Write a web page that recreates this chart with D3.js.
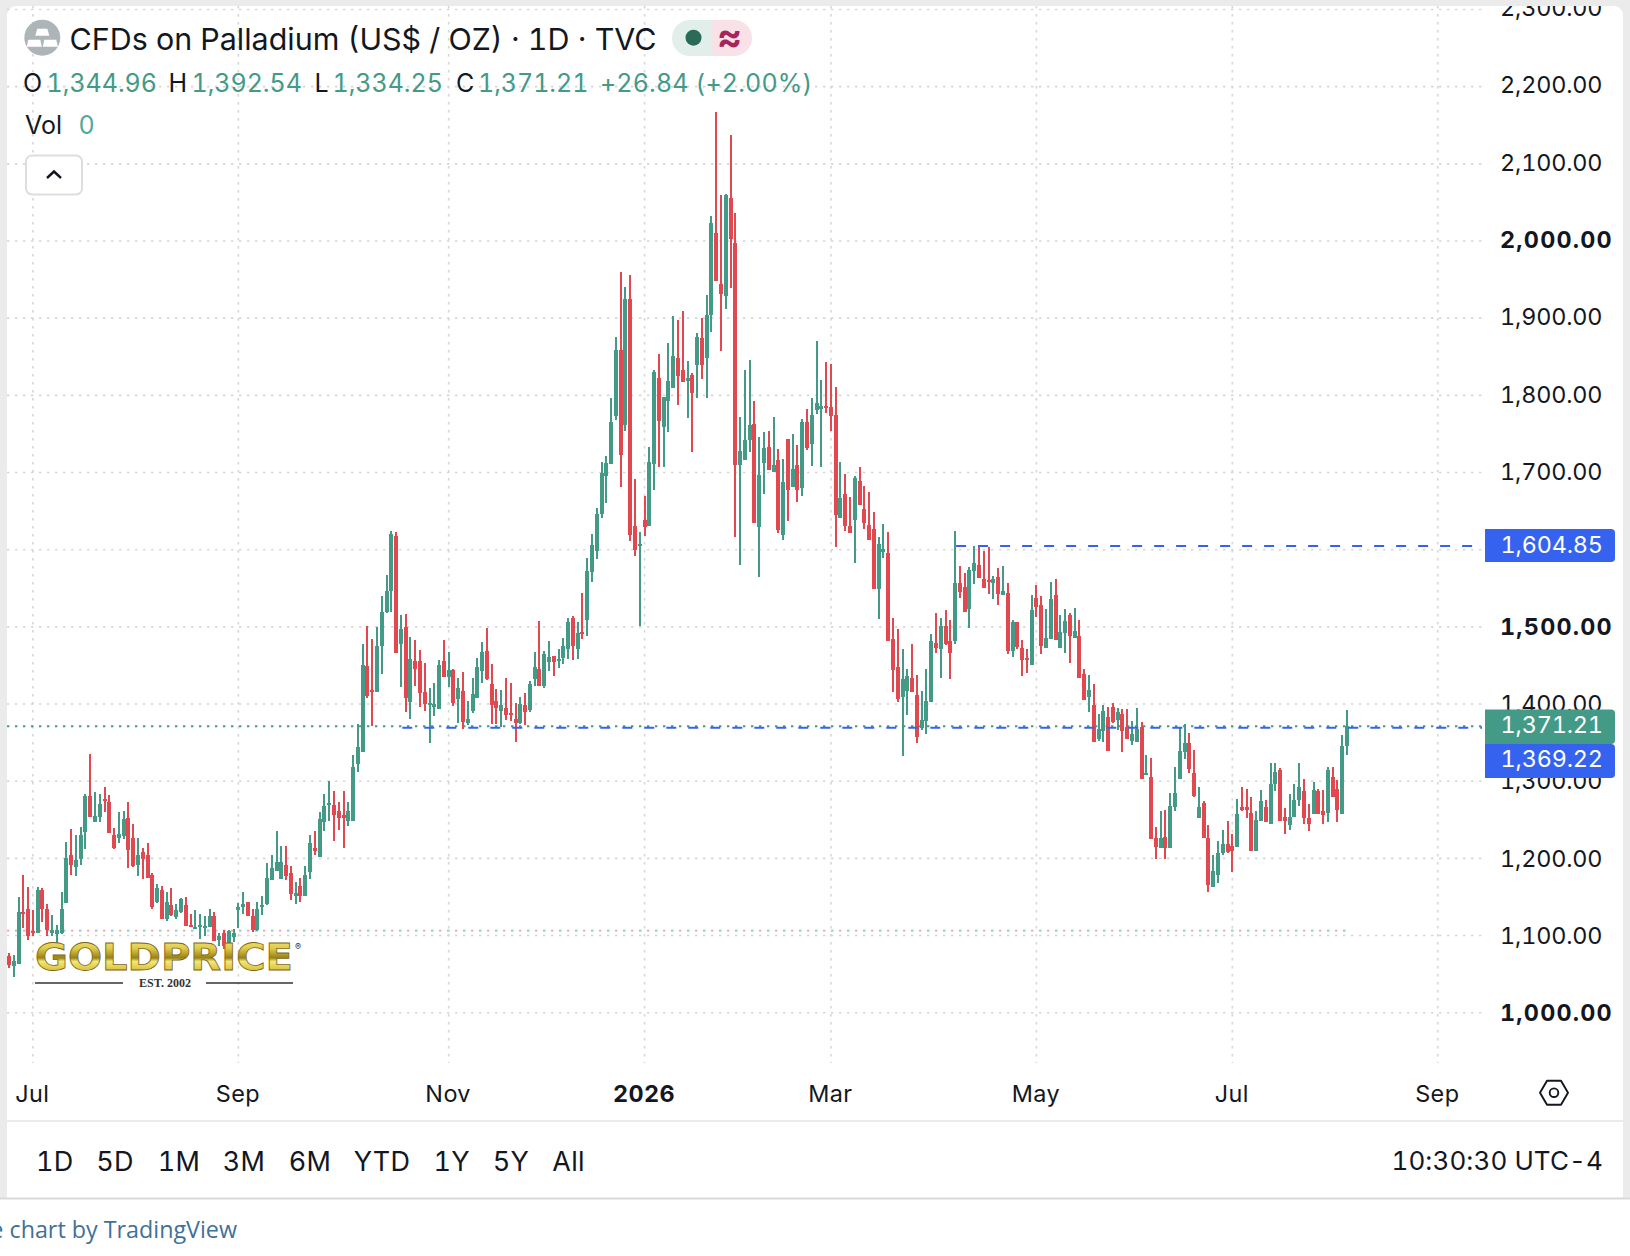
<!DOCTYPE html>
<html lang="en">
<head>
<meta charset="utf-8">
<title>CFDs on Palladium</title>
<script src="https://cdn.jsdelivr.net/npm/d3@7/dist/d3.min.js"></script>
<style>
html,body{margin:0;padding:0;background:#fff;overflow:hidden}
svg{display:block}
text{font-family:Inter,"Noto Sans",sans-serif;font-variant-numeric:tabular-nums;font-feature-settings:"tnum"}
</style>
</head>
<body>
<svg id="chart" width="1630" height="1256"></svg>
<script>
const highs=[1077,1075,1150,1178,1163,1133,1163,1161,1141,1126,
1113,1156,1221,1238,1230,1240,1284,1335,1286,1283,
1292,1282,1239,1260,1261,1273,1244,1227,1214,1220,
1181,1167,1164,1156,1161,1141,1148,1150,1128,1133,
1128,1125,1134,1130,1103,1107,1107,1108,1142,1157,
1144,1135,1144,1151,1194,1204,1235,1216,1216,1190,
1170,1174,1190,1230,1235,1260,1284,1300,1287,1273,
1287,1273,1334,1374,1478,1501,1484,1500,1540,1567,
1624,1623,1515,1517,1487,1483,1470,1453,1421,1427,
1457,1483,1467,1445,1434,1441,1404,1434,1460,1480,
1498,1452,1420,1418,1434,1427,1401,1409,1414,1430,
1467,1508,1469,1482,1462,1471,1486,1511,1514,1506,
1544,1589,1620,1654,1713,1721,1796,1876,1960,1940,
1956,1691,1623,1669,1733,1833,1853,1798,1868,1903,
1898,1909,1844,1829,1881,1900,1930,2032,2167,2060,
2061,2137,2036,1772,1833,1846,1793,1746,1752,1754,
1772,1730,1717,1743,1750,1736,1769,1782,1796,1870,
1820,1843,1840,1811,1713,1698,1668,1695,1707,1682,
1675,1649,1616,1633,1623,1511,1497,1471,1445,1478,
1438,1417,1445,1491,1518,1511,1522,1509,1624,1579,
1570,1578,1605,1606,1598,1603,1566,1576,1579,1557,
1509,1506,1483,1471,1541,1554,1540,1523,1558,1562,
1515,1523,1518,1524,1509,1445,1438,1426,1387,1399,
1396,1401,1395,1394,1394,1378,1395,1377,1334,1330,
1240,1262,1263,1285,1319,1369,1374,1363,1341,1293,
1274,1243,1205,1223,1237,1249,1231,1277,1292,1290,
1279,1262,1288,1275,1324,1324,1317,1265,1283,1296,
1324,1303,1270,1299,1290,1289,1319,1319,1302,1360,1392.54];
const lows=[1058,1046,1063,1110,1094,1099,1103,1117,1099,1100,
1090,1102,1142,1179,1177,1192,1212,1253,1247,1247,
1260,1233,1212,1220,1225,1187,1189,1177,1173,1174,
1134,1142,1121,1119,1125,1122,1129,1112,1111,1108,
1095,1099,1111,1093,1087,1082,1086,1091,1110,1128,
1125,1104,1106,1126,1139,1172,1183,1173,1172,1146,
1141,1143,1151,1173,1204,1202,1235,1249,1222,1237,
1213,1242,1249,1312,1338,1408,1371,1416,1439,1518,
1519,1466,1422,1390,1381,1423,1396,1391,1350,1384,
1393,1435,1422,1397,1375,1368,1373,1389,1408,1427,
1431,1374,1374,1370,1379,1378,1351,1374,1373,1390,
1423,1423,1421,1443,1436,1447,1452,1458,1457,1458,
1484,1488,1558,1588,1641,1660,1711,1768,1681,1754,
1611,1592,1501,1618,1631,1677,1707,1707,1752,1809,
1787,1817,1771,1726,1796,1821,1796,1882,1948,1857,
1912,1939,1616,1580,1716,1726,1634,1564,1672,1703,
1701,1621,1612,1637,1681,1662,1669,1729,1708,1776,
1707,1777,1754,1603,1641,1624,1621,1583,1658,1627,
1612,1549,1510,1589,1482,1416,1403,1333,1386,1416,
1349,1366,1361,1403,1466,1434,1476,1432,1478,1537,
1519,1499,1556,1563,1550,1543,1536,1528,1541,1465,
1461,1471,1436,1440,1450,1513,1465,1473,1484,1483,
1473,1466,1453,1485,1434,1405,1390,1351,1352,1351,
1339,1375,1366,1338,1355,1347,1351,1303,1308,1225,
1199,1213,1199,1213,1262,1303,1329,1310,1279,1252,
1227,1157,1163,1168,1204,1207,1182,1215,1261,1252,
1210,1209,1248,1247,1245,1287,1249,1231,1237,1253,
1268,1244,1235,1257,1257,1244,1247,1279,1247,1258,1334.25];
const opens=[1073,1060,1063,1131,1134,1106,1103,1159,1135,1103,
1102,1103,1142,1205,1189,1199,1234,1281,1247,1253,
1277,1273,1230,1226,1229,1252,1227,1191,1208,1205,
1179,1143,1159,1121,1139,1124,1131,1139,1113,1108,
1111,1110,1111,1125,1094,1103,1090,1098,1133,1137,
1143,1125,1107,1137,1141,1172,1183,1173,1192,1181,
1151,1164,1151,1182,1214,1202,1247,1269,1269,1261,
1256,1249,1249,1322,1338,1449,1418,1416,1475,1519,
1546,1618,1478,1500,1403,1456,1456,1416,1399,1396,
1393,1456,1435,1444,1406,1417,1375,1391,1408,1443,
1469,1426,1404,1391,1395,1388,1380,1375,1399,1392,
1432,1445,1423,1454,1462,1456,1460,1471,1511,1471,
1493,1509,1571,1598,1646,1695,1711,1773,1859,1761,
1925,1631,1605,1638,1631,1711,1822,1759,1793,1809,
1848,1833,1818,1826,1839,1874,1848,1904,2010,1944,
1929,2056,1997,1710,1716,1742,1763,1629,1712,1733,
1701,1716,1619,1743,1681,1710,1680,1765,1737,1781,
1782,1786,1785,1774,1641,1672,1631,1638,1689,1653,
1632,1627,1549,1597,1596,1484,1448,1409,1417,1434,
1412,1369,1378,1403,1479,1471,1501,1482,1482,1557,
1552,1523,1572,1580,1562,1561,1557,1565,1541,1544,
1469,1506,1473,1460,1450,1537,1528,1473,1484,1541,
1473,1492,1515,1485,1488,1439,1409,1399,1355,1365,
1383,1396,1379,1387,1370,1352,1351,1370,1308,1306,
1226,1213,1228,1213,1267,1303,1338,1350,1310,1252,
1272,1227,1163,1178,1207,1218,1216,1215,1267,1266,
1259,1209,1248,1266,1245,1297,1314,1254,1243,1253,
1275,1287,1252,1257,1287,1261,1259,1306,1290,1258,1344.96];
const closes=[1062,1067,1131,1129,1099,1103,1159,1135,1107,1107,
1107,1135,1200,1192,1198,1230,1281,1253,1255,1271,
1274,1233,1214,1231,1251,1211,1190,1204,1199,1174,
1137,1161,1121,1143,1126,1133,1147,1112,1111,1111,
1113,1112,1125,1093,1100,1087,1106,1103,1137,1141,
1125,1107,1135,1139,1174,1187,1195,1195,1177,1154,
1155,1151,1179,1220,1209,1251,1268,1272,1256,1252,
1252,1261,1319,1344,1450,1410,1416,1475,1519,1546,
1620,1466,1497,1408,1458,1445,1414,1400,1401,1400,
1450,1435,1444,1401,1421,1377,1381,1413,1448,1467,
1432,1399,1395,1399,1386,1386,1375,1400,1390,1426,
1448,1423,1465,1461,1454,1458,1475,1506,1475,1492,
1491,1572,1606,1646,1699,1712,1765,1859,1723,1925,
1619,1599,1607,1629,1713,1830,1767,1798,1818,1851,
1825,1817,1822,1803,1875,1839,1904,2023,1948,1931,
2059,2002,1710,1728,1742,1761,1634,1697,1732,1703,
1710,1625,1688,1677,1704,1677,1765,1732,1774,1790,
1786,1783,1773,1645,1667,1631,1621,1693,1658,1634,
1612,1549,1607,1601,1482,1444,1406,1432,1436,1416,
1357,1379,1404,1482,1473,1501,1478,1466,1557,1545,
1519,1574,1583,1563,1550,1558,1562,1543,1546,1469,
1506,1474,1457,1457,1522,1526,1475,1485,1536,1483,
1493,1508,1488,1495,1434,1405,1418,1351,1368,1391,
1339,1377,1390,1365,1355,1361,1368,1303,1311,1225,
1215,1227,1213,1268,1285,1339,1350,1316,1281,1266,
1227,1165,1183,1207,1219,1208,1210,1258,1263,1263,
1210,1250,1274,1247,1297,1312,1249,1249,1253,1276,
1293,1252,1244,1289,1258,1256,1314,1279,1263,1345,1371.21];
const priceTicks=[1000,1100,1200,1300,1400,1500,1600,1700,1800,1900,2000,2100,2200,2300];
const boldPrices=[1000,1500,2000];
const timeBarIndex=[5,48,92,133,172,215,256,299];
const timeLabels=["Jul","Sep","Nov","2026","Mar","May","Jul","Sep"];
const rangeLabels=["1D","5D","1M","3M","6M","YTD","1Y","5Y","All"];
const lastClose=1371.21, alertLow=1369.22, alertHigh=1604.85, baseLine=1106.3;
const legendParts=[["O","1,344.96"],["H","1,392.54"],["L","1,334.25"],["C","1,371.21"]];

const GREEN="#439A86",RED="#E2484F",BLUE="#3563F0",INK="#131722";
const svg=d3.select("#chart");
const x=d3.scaleLinear().domain([0,280]).range([9,1347]);
const y=d3.scaleLinear().domain([1000,2000]).range([1012.7,241]);
const fmt=d3.format(",.2f");
const PLOT_R=1482,PLOT_L=7,PLOT_T=6,AXIS_B=1063;

// frame
svg.append("rect").attr("x",0).attr("y",0).attr("width",1630).attr("height",1199).attr("fill","#ebebeb");
svg.append("rect").attr("x",7).attr("y",6).attr("width",1616).attr("height",1193).attr("rx",9).attr("fill","#fff");
svg.append("rect").attr("x",7).attr("y",1120).attr("width",1616).attr("height",78).attr("fill","#fff");
svg.append("rect").attr("x",7).attr("y",1120).attr("width",1616).attr("height",2).attr("fill","#ebebeb");
svg.append("rect").attr("x",0).attr("y",1197.5).attr("width",1630).attr("height",2).attr("fill","#d9d9d9");

const defs=svg.append("defs");
defs.append("clipPath").attr("id","panel").append("rect").attr("x",7).attr("y",6).attr("width",1616).attr("height",1114);
const gold=defs.append("linearGradient").attr("id","gold").attr("x1",0).attr("y1",0).attr("x2",0).attr("y2",1);
[["0%","#f8ee96"],["30%","#e0cc4a"],["52%","#978118"],["60%","#f3e775"],["85%","#d2b833"],["100%","#85690f"]].forEach(s=>gold.append("stop").attr("offset",s[0]).attr("stop-color",s[1]));

const root=svg.append("g").attr("clip-path","url(#panel)");

// grid
const grid=root.append("g").attr("stroke","#d6d6d6").attr("stroke-width",1.6).attr("stroke-dasharray","2.4 5.6");
grid.selectAll(".h").data(priceTicks).join("line").attr("x1",PLOT_L).attr("x2",PLOT_R).attr("y1",d=>y(d)).attr("y2",d=>y(d));
grid.selectAll(".v").data(timeBarIndex).join("line").attr("x1",d=>x(d)).attr("x2",d=>x(d)).attr("y1",PLOT_T).attr("y2",AXIS_B);

// base line (pale alternating)
root.append("line").attr("x1",PLOT_L).attr("x2",x(280)).attr("y1",y(baseLine)).attr("y2",y(baseLine)).attr("stroke","#f0a3a6").attr("stroke-width",1.6).attr("stroke-dasharray","2.4 5.6");
root.append("line").attr("x1",PLOT_L+8).attr("x2",x(280)).attr("y1",y(baseLine)).attr("y2",y(baseLine)).attr("stroke","#9fd3c8").attr("stroke-width",1.6).attr("stroke-dasharray","2.4 13.6");

// last price dotted
root.append("line").attr("x1",PLOT_L).attr("x2",PLOT_R).attr("y1",y(lastClose)).attr("y2",y(lastClose)).attr("stroke",GREEN).attr("stroke-width",1.8).attr("stroke-dasharray","2.4 5.6");

// candles
const bars=d3.range(opens.length);
const cg=root.append("g").attr("shape-rendering","crispEdges");
cg.selectAll(".wick").data(bars).join("rect").attr("class","wick")
 .attr("x",i=>Math.round(x(i))-1).attr("width",2)
 .attr("y",i=>y(highs[i])).attr("height",i=>y(lows[i])-y(highs[i]))
 .attr("fill",i=>closes[i]>=opens[i]?GREEN:RED);
cg.selectAll(".body").data(bars).join("rect").attr("class","body")
 .attr("x",i=>Math.round(x(i))-2).attr("width",4)
 .attr("y",i=>y(Math.max(opens[i],closes[i])))
 .attr("height",i=>Math.max(2,Math.abs(y(opens[i])-y(closes[i]))))
 .attr("fill",i=>closes[i]>=opens[i]?GREEN:RED);

// alert lines
[[alertLow,x(82.3)],[alertHigh,x(198.2)]].forEach(a=>{
 root.append("line").attr("x1",a[1]).attr("x2",PLOT_R).attr("y1",y(a[0])).attr("y2",y(a[0])).attr("stroke",BLUE).attr("stroke-width",2).attr("stroke-dasharray","10 12");
});

// price axis (library axis, restyled)
const yAxis=root.append("g").attr("transform","translate(1500,-2)")
 .call(d3.axisRight(y).tickValues(priceTicks).tickSize(0).tickPadding(0).tickFormat(fmt));
yAxis.select(".domain").remove();
yAxis.selectAll("text").attr("font-family","Inter").attr("font-size",23.4).attr("fill",INK)
 .attr("font-weight",d=>boldPrices.includes(d)?700:400).attr("dy","0.35em").attr("text-anchor","start").attr("x",0)
 .attr("y",d=>(2200-d)/600)
 .attr("letter-spacing",d=>boldPrices.includes(d)?1.2:-0.15);

// time axis
const xAxis=root.append("g").attr("transform","translate(-1,1094)")
 .call(d3.axisBottom(x).tickValues(timeBarIndex).tickSize(0).tickPadding(0).tickFormat((d,i)=>timeLabels[i]));
xAxis.select(".domain").remove();
xAxis.selectAll("text").attr("font-family","Inter").attr("font-size",23.4).attr("fill",INK).attr("y",0)
 .attr("font-weight",(d,i)=>timeLabels[i]==="2026"?700:400).attr("dy","0.35em").attr("text-anchor","middle").attr("letter-spacing",0.4);

// price tags
function tag(val,top,h,col,shift){
 const g=root.append("g");
 g.append("path").attr("d",`M1485 ${top}H1611a4 4 0 0 1 4 4V${top+h-4}a4 4 0 0 1 -4 4H1485Z`).attr("fill",col);
 g.append("text").attr("x",1500.5).attr("y",top+h/2+shift).attr("dy","0.35em").attr("fill","#fff").attr("font-size",23.4).attr("letter-spacing",-0.15).text(fmt(val));
}
tag(alertHigh,529,33,BLUE,-1);
tag(lastClose,709.5,34.5,GREEN,-2);
tag(alertLow,744,34,BLUE,-2);

// settings hexagon
const hex=root.append("g").attr("transform","translate(1554,1092.7)").attr("fill","none").attr("stroke",INK).attr("stroke-width",1.9);
hex.append("path").attr("d","M-14 0L-7-12H7L14 0L7 12H-7Z").attr("stroke-linejoin","round");
hex.append("circle").attr("r",4.3);

// header icon
const ic=root.append("g").attr("transform","translate(42.3,37.7)");
ic.append("circle").attr("r",18).attr("fill","#adb5b8");
ic.selectAll("path").data(["M-5-9H5L7-2H-7Z","M-14 2H-2L-.5 9H-15.5Z","M2 2H14L15.5 9H.5Z"]).join("path").attr("d",d=>d).attr("fill","#fff");

// header text
root.append("text").attr("x",69.5).attr("y",39.5).attr("dy","0.35em").attr("font-size",30.45).attr("fill",INK).text("CFDs on Palladium (US$ / OZ) · 1D · TVC");
const badge=root.append("g");
badge.append("path").attr("d","M712 20H690a18 18 0 0 0 0 36H712Z").attr("fill","#e1eeea");
badge.append("path").attr("d","M712 20H734a18 18 0 0 1 0 36H712Z").attr("fill","#f8e2e8");
badge.append("circle").attr("cx",693.5).attr("cy",37.7).attr("r",8).attr("fill","#2c6a58");
badge.append("text").attr("x",729.5).attr("y",37).attr("dy","0.35em").attr("text-anchor","middle").attr("font-size",38).attr("font-weight",700).attr("fill","#a8245c").text("≈");

const lblX=[23,168.5,314.6,456], valX=[46.6,191.5,332.5,478];
legendParts.forEach((p,i)=>{
 root.append("text").attr("x",lblX[i]).attr("y",83).attr("dy","0.35em").attr("font-size",25).attr("fill",INK).text(p[0]);
 root.append("text").attr("x",valX[i]).attr("y",83).attr("dy","0.35em").attr("font-size",25).attr("letter-spacing",-0.05).attr("fill",GREEN).text(p[1]);
});
root.append("text").attr("x",600).attr("y",83).attr("dy","0.35em").attr("font-size",25).attr("letter-spacing",0.15).attr("fill",GREEN).text("+26.84 (+2.00%)");
root.append("text").attr("x",25).attr("y",125.5).attr("dy","0.35em").attr("font-size",25).attr("fill",INK).text("Vol");
root.append("text").attr("x",78.5).attr("y",125.5).attr("dy","0.35em").attr("font-size",25).attr("fill","#53a99a").text("0");

root.append("rect").attr("x",26).attr("y",155.5).attr("width",56).attr("height",39).attr("rx",6).attr("fill","#fff").attr("stroke","#dedede").attr("stroke-width",2);
root.append("path").attr("d","M47 178L54 171.5L61 178").attr("fill","none").attr("stroke",INK).attr("stroke-width",2.4);

// logo
const logo=root.append("g");
logo.append("text").attr("x",35).attr("y",970).attr("textLength",258).attr("lengthAdjust","spacingAndGlyphs")
 .attr("font-weight",700).attr("font-size",38)
 .attr("fill","url(#gold)").attr("stroke","#7d6712").attr("stroke-width",.8).style("font-family","'DejaVu Sans'").text("GOLDPRICE");
logo.append("text").attr("x",298).attr("y",950).attr("font-size",9).attr("fill","#333").attr("text-anchor","middle").text("®");
logo.selectAll("line").data([[35,123],[206,293]]).join("line").attr("x1",d=>d[0]).attr("x2",d=>d[1]).attr("y1",983).attr("y2",983).attr("stroke","#333").attr("stroke-width",1.5);
logo.append("text").attr("x",165).attr("y",986.5).attr("text-anchor","middle").attr("font-size",12).attr("font-weight",700).attr("fill","#333").style("font-family","'Liberation Serif'").text("EST. 2002");

// range selector
const rangeX=[54.8,115,179,244,310,382,451.6,511,568.6];
svg.selectAll(".range").data(rangeLabels).join("text").attr("class","range")
 .attr("x",(d,i)=>rangeX[i]).attr("y",1162).attr("dy","0.35em").attr("text-anchor","middle").attr("font-size",27).attr("letter-spacing",0.3).attr("fill",INK).text(d=>d);
svg.append("text").attr("x",1603).attr("y",1161).attr("dy","0.35em").attr("text-anchor","end").attr("font-size",26).attr("letter-spacing",0.1).attr("fill",INK).text("10:30:30 UTC-4");

// footer
svg.append("text").attr("x",237).attr("y",1230).attr("dy","0.35em").attr("text-anchor","end").attr("font-size",23.3).attr("fill","#3f7199").style("font-family","'Open Sans'").text("e chart by TradingView");
</script>
</body>
</html>
